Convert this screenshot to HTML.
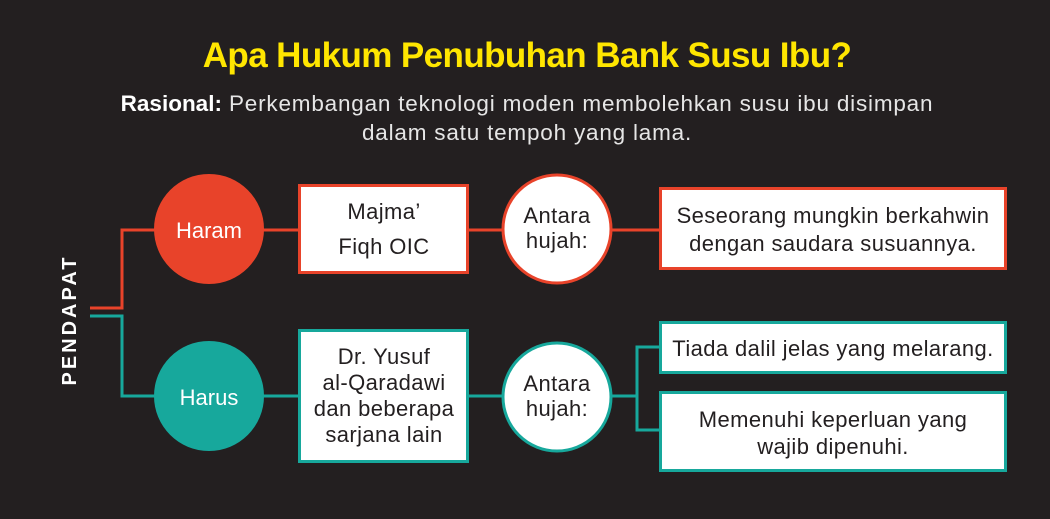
<!DOCTYPE html>
<html><head><meta charset="utf-8"><style>
body{margin:0;width:1050px;height:519px;background:#231f20;overflow:hidden;font-family:"Liberation Sans",sans-serif;position:relative}
.a{position:absolute}
.t{position:absolute;left:0;width:1050px;text-align:center}
</style></head><body>
<div class="t" style="top:36px;font-size:35px;font-weight:bold;color:#ffe600;letter-spacing:-0.6px;left:2px">Apa Hukum Penubuhan Bank Susu Ibu?</div>
<div class="a" style="left:27px;top:89px;width:1000px;text-align:center;font-size:22.5px;line-height:29px;color:#e6e6e6;letter-spacing:0.8px">
<b style="color:#fff;letter-spacing:0">Rasional:</b> Perkembangan teknologi moden membolehkan susu ibu disimpan<br>dalam satu tempoh yang lama.</div>
<svg class="a" style="left:0;top:0" width="1050" height="519" font-family="Liberation Sans, sans-serif">
<g fill="none" stroke-width="3">
<polyline points="90,308 122,308 122,230 160,230" stroke="#e8432a"/>
<line x1="260" y1="230" x2="300" y2="230" stroke="#e8432a"/>
<line x1="468" y1="230" x2="505" y2="230" stroke="#e8432a"/>
<line x1="610" y1="230" x2="660" y2="230" stroke="#e8432a"/>
<polyline points="90,316 122,316 122,396 160,396" stroke="#17a89c"/>
<line x1="260" y1="396" x2="300" y2="396" stroke="#17a89c"/>
<line x1="468" y1="396" x2="505" y2="396" stroke="#17a89c"/>
<line x1="610" y1="396" x2="637" y2="396" stroke="#17a89c"/>
<polyline points="660,347 637,347 637,430 660,430" stroke="#17a89c"/>
</g>
<circle cx="209" cy="229" r="55" fill="#e8432a"/>
<circle cx="209" cy="396" r="55" fill="#17a89c"/>
<rect x="299.5" y="185.5" width="168" height="87" fill="#fff" stroke="#e8432a" stroke-width="3"/>
<rect x="299.5" y="330.5" width="168" height="131" fill="#fff" stroke="#17a89c" stroke-width="3"/>
<circle cx="557" cy="229" r="54" fill="#fff" stroke="#e8432a" stroke-width="3"/>
<circle cx="557" cy="397" r="54" fill="#fff" stroke="#17a89c" stroke-width="3"/>
<rect x="660.5" y="188.5" width="345" height="80" fill="#fff" stroke="#e8432a" stroke-width="3"/>
<rect x="660.5" y="322.5" width="345" height="50" fill="#fff" stroke="#17a89c" stroke-width="3"/>
<rect x="660.5" y="392.5" width="345" height="78" fill="#fff" stroke="#17a89c" stroke-width="3"/>
<g font-size="22" fill="#fff" text-anchor="middle">
<text x="209" y="238">Haram</text>
<text x="209" y="405">Harus</text>
</g>
<g font-size="22" fill="#231f20" text-anchor="middle" letter-spacing="0.4">
<text x="384" y="219">Majma’</text>
<text x="384" y="254">Fiqh OIC</text>
<text x="384" y="364">Dr. Yusuf</text>
<text x="384" y="390">al-Qaradawi</text>
<text x="384" y="416">dan beberapa</text>
<text x="384" y="442">sarjana lain</text>
<text x="557" y="223">Antara</text>
<text x="557" y="248">hujah:</text>
<text x="557" y="391">Antara</text>
<text x="557" y="416">hujah:</text>
<text x="833" y="223">Seseorang mungkin berkahwin</text>
<text x="833" y="251">dengan saudara susuannya.</text>
<text x="833" y="356">Tiada dalil jelas yang melarang.</text>
<text x="833" y="427">Memenuhi keperluan yang</text>
<text x="833" y="454">wajib dipenuhi.</text>
</g>
<text x="0" y="0" transform="translate(76,320) rotate(-90)" font-size="20" font-weight="bold" fill="#fff" text-anchor="middle" letter-spacing="3">PENDAPAT</text>
</svg>
</body></html>
